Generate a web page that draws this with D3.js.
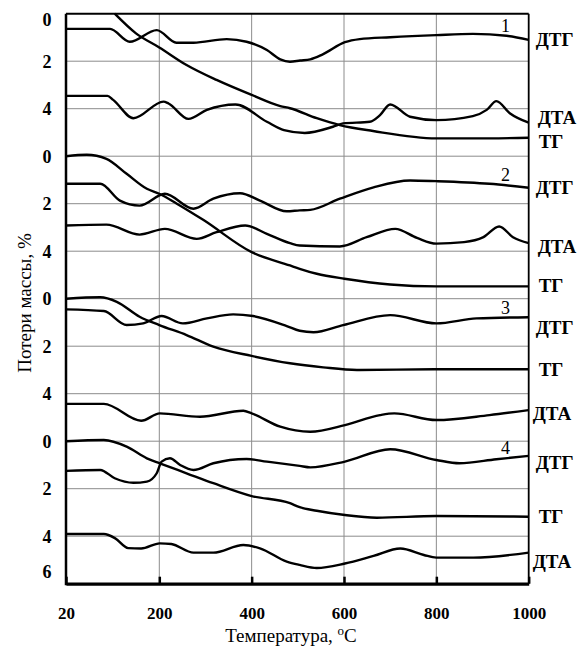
<!DOCTYPE html>
<html>
<head>
<meta charset="utf-8">
<script src="https://cdn.jsdelivr.net/npm/d3@7"></script>
<style>
  body { margin: 0; background: #fff; }
  svg { display: block; font-family: "Liberation Serif", "Times New Roman", serif; }
</style>
</head>
<body>
<svg id="chart" width="584" height="649"></svg>
<script>
//====================== Data =====================================================
// [temperature °C, value in the block's own scale (0..6, down = larger)]

const xTicks = [20, 200, 400, 600, 800, 1000];
const yTickLabels = ["0", "2", "4", "0", "2", "4", "0", "2", "4", "0", "2", "4", "6"];

// sample 1
const dtg1 = [[20,0.64],[105,0.64],[143,1.18],[195,0.69],[237,1.22],[274,1.22],[346,1.07],[389,1.18],[433,1.53],[462,1.92],[483,2.02],[505,1.97],[527,1.92],[554,1.71],[602,1.2],[634,1.07],[700,0.99],[800,0.9],[879,0.85],[952,0.93],[1000,1.1]];
const dta1 = [[20,3.46],[100,3.46],[111,3.63],[150,4.4],[209,3.7],[220,3.78],[263,4.43],[303,4.05],[365,3.82],[433,4.55],[470,4.9],[515,5.02],[576,4.76],[598,4.62],[656,4.55],[678,4.27],[700,3.82],[743,4.34],[800,4.48],[879,4.31],[909,4.05],[930,3.68],[959,4.19],[1000,4.59]];
const tg1 = [[114,0],[155,0.83],[200,1.42],[259,2.16],[324,2.79],[400,3.42],[462,3.89],[483,3.98],[541,4.4],[591,4.69],[663,4.94],[800,5.25],[915,5.25],[1000,5.22]];

// sample 2
const dtg2 = [[20,1.16],[86,1.16],[124,1.87],[162,2.08],[212,1.58],[274,2.21],[317,1.79],[375,1.56],[418,1.87],[476,2.32],[504,2.28],[527,2.26],[591,1.79],[664,1.31],[743,1.02],[800,1.05],[915,1.16],[1000,1.33]];
const dta2 = [[20,2.92],[98,2.88],[162,3.3],[212,3.06],[281,3.48],[324,3.2],[386,2.92],[433,3.27],[483,3.66],[504,3.76],[591,3.8],[649,3.41],[711,3.06],[758,3.44],[800,3.68],[860,3.62],[902,3.41],[936,2.96],[966,3.41],[1000,3.66]];
const tg2 = [[20,0],[60,-0.06],[98,0.11],[137,0.74],[176,1.37],[200,1.58],[238,2.0],[295,2.68],[400,4.04],[483,4.6],[504,4.74],[541,4.95],[601,5.16],[700,5.4],[800,5.48],[1000,5.48]];

// sample 3
const dtg3 = [[20,0.45],[93,0.52],[137,1.11],[169,1.04],[205,0.73],[251,1.04],[303,0.83],[360,0.66],[403,0.73],[476,1.15],[504,1.35],[534,1.41],[598,1.11],[700,0.69],[800,1.04],[887,0.83],[1000,0.78]];
const tg3 = [[20,0],[86,-0.06],[118,0.13],[162,0.76],[200,1.11],[259,1.53],[317,2.02],[400,2.41],[483,2.72],[555,2.89],[628,3.0],[800,2.97],[1000,2.97]];
const dta3 = [[20,4.43],[93,4.43],[165,5.14],[201,4.83],[288,4.97],[382,4.72],[400,4.83],[462,5.39],[527,5.6],[602,5.32],[678,4.9],[709,4.83],[800,5.11],[915,4.9],[1000,4.69]];

// sample 4
const dtg4 = [[20,1.25],[86,1.21],[114,1.56],[150,1.75],[176,1.7],[195,1.35],[205,0.86],[223,0.72],[245,1.0],[274,1.21],[317,0.93],[389,0.75],[433,0.86],[504,1.04],[527,1.1],[602,0.86],[700,0.34],[800,0.79],[850,0.93],[930,0.76],[1000,0.62]];
const tg4 = [[20,0],[93,-0.05],[137,0.23],[176,0.72],[201,0.93],[259,1.35],[317,1.77],[400,2.31],[483,2.61],[504,2.78],[541,2.93],[602,3.11],[671,3.22],[800,3.15],[1000,3.18]];
const dta4 = [[20,3.91],[93,3.91],[115,4.09],[140,4.5],[165,4.52],[201,4.3],[226,4.33],[274,4.69],[317,4.69],[382,4.37],[418,4.51],[476,5.07],[504,5.21],[541,5.34],[602,5.15],[664,4.83],[722,4.52],[773,4.79],[800,4.9],[880,4.9],[1000,4.69]];

const curveNames = ["ДТГ", "ДТА", "ТГ"];
const sampleNumbers = ["1", "2", "3", "4"];

//====================== Series list + label layout ===============================

const series = [
  { data: dtg1, block: 0, name: curveNames[0], num: sampleNumbers[0] },
  { data: dta1, block: 0, name: curveNames[1] },
  { data: tg1,  block: 0, name: curveNames[2] },
  { data: dtg2, block: 1, name: curveNames[0], num: sampleNumbers[1] },
  { data: dta2, block: 1, name: curveNames[1] },
  { data: tg2,  block: 1, name: curveNames[2] },
  { data: dtg3, block: 2, name: curveNames[0], num: sampleNumbers[2] },
  { data: tg3,  block: 2, name: curveNames[2] },
  { data: dta3, block: 2, name: curveNames[1] },
  { data: dtg4, block: 3, name: curveNames[0], num: sampleNumbers[3] },
  { data: tg4,  block: 3, name: curveNames[2] },
  { data: dta4, block: 3, name: curveNames[1] }
];

// label nudges (px) relative to the curve end
const labelNudge = [0, -5, 4, 0, 3, -1, 10, 0, 3, 6, 0, 9];
const labelDx = [7, 9, 10, 7, 9, 10, 7, 10, 4, 7, 10, 4];

//====================== Chart ====================================================

const w = 584;
const h = 649;
const pLeft = 66, pRight = 528.7, pTop = 13.7, pBottom = 583.7;

const svg = d3.select("#chart");

// x axis is drawn with equal spacing for 20..200 and 200..1000 steps
const x = d3.scaleLinear()
  .domain([20, 200, 1000])
  .range([pLeft, 159.3, pRight]);

// 4 stacked blocks of 6 units each
const y = d3.scaleLinear()
  .domain([0, 24])
  .range([pTop, pBottom]);

const yVal = (block, v) => y(block * 6 + v);

// grid

const gridY = d3.range(2, 24, 2);
const gridX = xTicks.slice(1, -1);

svg.append("g")
  .selectAll("line")
  .data(gridY)
  .join("line")
  .attr("x1", pLeft).attr("x2", pRight)
  .attr("y1", d => y(d)).attr("y2", d => y(d))
  .attr("stroke", "#8c8c8c")
  .attr("stroke-width", 1);

svg.append("g")
  .selectAll("line")
  .data(gridX)
  .join("line")
  .attr("x1", d => x(d)).attr("x2", d => x(d))
  .attr("y1", pTop).attr("y2", pBottom)
  .attr("stroke", "#8c8c8c")
  .attr("stroke-width", 1);

// frame

svg.append("line").attr("x1", pLeft).attr("x2", pRight).attr("y1", pTop).attr("y2", pTop)
  .attr("stroke", "#000").attr("stroke-width", 2);
svg.append("line").attr("x1", pRight).attr("x2", pRight).attr("y1", pTop).attr("y2", pBottom)
  .attr("stroke", "#000").attr("stroke-width", 1.8);
svg.append("line").attr("x1", pLeft).attr("x2", pLeft).attr("y1", pTop).attr("y2", pBottom + 1.5)
  .attr("stroke", "#000").attr("stroke-width", 2.5);

// bottom axis

let xAxisGen = d3.axisBottom(x)
  .tickValues(xTicks)
  .tickFormat(d => d)
  .tickSizeInner(-7)
  .tickSizeOuter(0)
  .tickPadding(23);

let xAxis = svg.append("g")
  .attr("transform", "translate(0," + pBottom + ")")
  .call(xAxisGen);

xAxis.select(".domain").attr("stroke", "#000").attr("stroke-width", 3.2);
xAxis.selectAll(".tick line").attr("stroke", "#000").attr("stroke-width", 2.5);
xAxis.selectAll(".tick text")
  .attr("font-family", "Liberation Serif")
  .attr("font-size", 17)
  .attr("font-weight", "bold")
  .attr("fill", "#000");

// left labels

svg.append("g")
  .selectAll("text")
  .data(yTickLabels)
  .join("text")
  .attr("x", 47)
  .attr("y", (d, i) => y(i * 2) + (i === 0 ? 6 : 0) + (i === yTickLabels.length - 1 ? -12 : 0))
  .attr("dy", "0.35em")
  .attr("text-anchor", "middle")
  .attr("font-size", 18)
  .attr("font-weight", "bold")
  .text(d => d);

// curves

const line = d3.line()
  .curve(d3.curveMonotoneX);

svg.append("g")
  .selectAll("path")
  .data(series)
  .join("path")
  .attr("d", s => line(s.data.map(p => [x(p[0]), yVal(s.block, p[1])])))
  .attr("fill", "none")
  .attr("stroke", "#000")
  .attr("stroke-width", 2.4)
  .attr("stroke-linejoin", "round");

// curve names at the right

svg.append("g")
  .selectAll("text")
  .data(series)
  .join("text")
  .attr("x", (s, i) => pRight + labelDx[i])
  .attr("y", (s, i) => yVal(s.block, s.data[s.data.length - 1][1]) + labelNudge[i])
  .attr("dy", "0.35em")
  .attr("font-size", 19)
  .attr("font-weight", "bold")
  .text(s => s.name);

// sample numbers above the DTG curves

const numT = 950;
const valueAt = (data, t) => {
  let i = data.findIndex(p => p[0] >= t);
  let a = data[i - 1], b = data[i];
  return a[1] + (b[1] - a[1]) * (t - a[0]) / (b[0] - a[0]);
};

svg.append("g")
  .selectAll("text")
  .data(series.filter(s => s.num))
  .join("text")
  .attr("x", x(numT))
  .attr("y", s => yVal(s.block, valueAt(s.data, numT)) - 4)
  .attr("text-anchor", "middle")
  .attr("font-size", 18)
  .text(s => s.num);

// axis titles

const xTitle = svg.append("text")
  .attr("x", 291)
  .attr("y", 642)
  .attr("text-anchor", "middle")
  .attr("font-size", 19);
xTitle.append("tspan").text("Температура, ");
xTitle.append("tspan").attr("font-size", 13).attr("dy", -7).text("o");
xTitle.append("tspan").attr("dy", 7).text("C");

svg.append("text")
  .attr("transform", "translate(31,303) rotate(-90)")
  .attr("text-anchor", "middle")
  .attr("font-size", 19)
  .text("Потери массы, %");
</script>
</body>
</html>
